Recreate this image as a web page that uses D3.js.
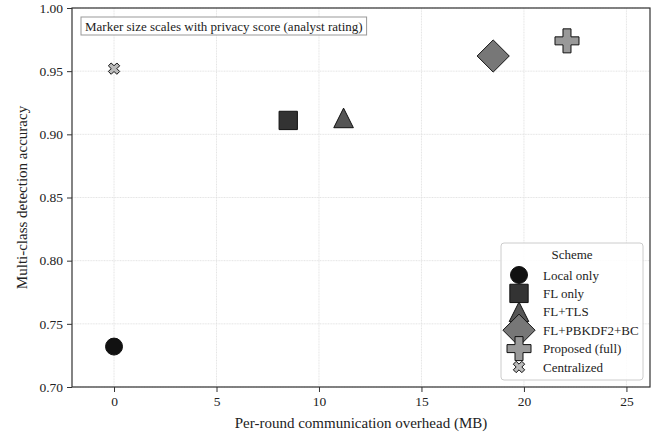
<!DOCTYPE html>
<html>
<head>
<meta charset="utf-8">
<script src="https://cdn.jsdelivr.net/npm/d3@7"></script>
<style>
  body { margin: 0; background: #fff; }
  svg text { font-family: 'Liberation Serif', serif; fill: #222; }
</style>
</head>
<body>
<svg id="chart"></svg>
<script>
const schemes = ["Local only", "FL only", "FL+TLS", "FL+PBKDF2+BC", "Proposed (full)", "Centralized"]
const overheadMB = [0, 8.5, 11.2, 18.5, 22.1, 0]
const accuracy = [0.732, 0.911, 0.913, 0.962, 0.974, 0.952]
const privacyScore = [4, 5, 6, 9, 10, 1]
const shapes = ["circle", "square", "triangle", "diamond", "plus", "x"]
const fills = ["#111111", "#333333", "#555555", "#777777", "#999999", "#bbbbbb"]
const xTicks = [0, 5, 10, 15, 20, 25]
const yTicks = [0.70, 0.75, 0.80, 0.85, 0.90, 0.95, 1.00]

const width = 667
const height = 438
const margin = {top: 8, right: 17, bottom: 51, left: 72}

const svg = d3.select("#chart").attr("width", width).attr("height", height)

const x = d3.scaleLinear().domain([-2.05, 26.15]).range([margin.left, width - margin.right])
const y = d3.scaleLinear().domain([0.70, 1.00]).range([height - margin.bottom, margin.top])
// marker width in px grows with privacy score (area-like)
const sizeOf = s => Math.sqrt(96 + 48 * s)

function markerPath(shape, w) {
  const r = w / 2
  if (shape === "circle") {
    return `M${r},0A${r},${r} 0 1,1 ${-r},0A${r},${r} 0 1,1 ${r},0Z`
  }
  if (shape === "square") {
    return `M${-r},${-r}H${r}V${r}H${-r}Z`
  }
  if (shape === "triangle") {
    return `M0,${-r}L${r},${r}L${-r},${r}Z`
  }
  if (shape === "diamond") {
    const d = r * 1.4
    return `M0,${-d}L${d},0L0,${d}L${-d},0Z`
  }
  const a = r / 3
  const plus = [[-a,-r],[a,-r],[a,-a],[r,-a],[r,a],[a,a],[a,r],[-a,r],[-a,a],[-r,a],[-r,-a],[-a,-a]]
  if (shape === "plus") {
    return "M" + plus.map(p => p.join(",")).join("L") + "Z"
  }
  const c = Math.SQRT1_2
  const rot = plus.map(([px, py]) => [(px - py) * c, (px + py) * c])
  return "M" + rot.map(p => p.map(v => v.toFixed(2)).join(",")).join("L") + "Z"
}

// grid
const grid = svg.append("g").attr("stroke", "#dddddd").attr("stroke-width", 0.8).attr("stroke-dasharray", "1,0.6")
grid.selectAll("line.gx").data(xTicks).join("line")
  .attr("x1", d => x(d)).attr("x2", d => x(d))
  .attr("y1", margin.top).attr("y2", height - margin.bottom)
grid.selectAll("line.gy").data(yTicks).join("line")
  .attr("x1", margin.left).attr("x2", width - margin.right)
  .attr("y1", d => y(d)).attr("y2", d => y(d))

// axes
const xAxis = svg.append("g")
  .attr("transform", `translate(0,${height - margin.bottom})`)
  .call(d3.axisBottom(x).tickValues(xTicks).tickFormat(d3.format("d")).tickSize(5).tickPadding(4))
const yAxis = svg.append("g")
  .attr("transform", `translate(${margin.left},0)`)
  .call(d3.axisLeft(y).tickValues(yTicks).tickFormat(d3.format(".2f")).tickSize(5).tickPadding(4))
for (const ax of [xAxis, yAxis]) {
  ax.select(".domain").remove()
  ax.selectAll(".tick line").attr("stroke", "#333")
  ax.selectAll(".tick text").attr("font-size", 13.5).attr("fill", "#222").attr("font-family", "Liberation Serif")
}

svg.append("rect")
  .attr("x", margin.left).attr("y", margin.top)
  .attr("width", width - margin.left - margin.right)
  .attr("height", height - margin.top - margin.bottom)
  .attr("fill", "none").attr("stroke", "#333").attr("stroke-width", 1.2)

svg.append("text")
  .attr("x", (margin.left + width - margin.right) / 2).attr("y", height - 10)
  .attr("text-anchor", "middle").attr("font-size", 15)
  .text("Per-round communication overhead (MB)")
svg.append("text")
  .attr("transform", `translate(27,${(margin.top + height - margin.bottom) / 2}) rotate(-90)`)
  .attr("text-anchor", "middle").attr("font-size", 15)
  .text("Multi-class detection accuracy")

// points
const points = schemes.map((s, i) => ({name: s, x: overheadMB[i], y: accuracy[i], p: privacyScore[i], shape: shapes[i], fill: fills[i]}))
svg.append("g").selectAll("path").data(points).join("path")
  .attr("transform", d => `translate(${x(d.x)},${y(d.y)})`)
  .attr("d", d => markerPath(d.shape, sizeOf(d.p)))
  .attr("fill", d => d.fill).attr("stroke", "#111").attr("stroke-width", 1)

// annotation
const note = svg.append("g").attr("transform", `translate(${margin.left + 9},${margin.top + 9})`)
const noteText = note.append("text").attr("x", 4).attr("y", 13.5).attr("font-size", 13)
  .text("Marker size scales with privacy score (analyst rating)")
const tw = noteText.node().getComputedTextLength()
note.insert("rect", "text").attr("width", tw + 8).attr("height", 18)
  .attr("fill", "#fff").attr("stroke", "#999").attr("stroke-width", 1)

// legend
const lg = svg.append("g").attr("transform", `translate(501,243)`)
lg.append("rect").attr("width", 142).attr("height", 137).attr("rx", 3)
  .attr("fill", "#fff").attr("fill-opacity", 0.85).attr("stroke", "#ccc")
lg.append("text").attr("x", 71).attr("y", 16).attr("text-anchor", "middle").attr("font-size", 13).text("Scheme")
const items = lg.selectAll("g.item").data(points).join("g")
  .attr("transform", (d, i) => `translate(0,${32 + i * 18.4})`)
items.append("path")
  .attr("transform", "translate(18,0)")
  .attr("d", d => markerPath(d.shape, sizeOf(d.p)))
  .attr("fill", d => d.fill).attr("stroke", "#111").attr("stroke-width", 1)
items.append("text").attr("x", 42).attr("y", 4.5).attr("font-size", 13).text(d => d.name)
</script>
</body>
</html>
